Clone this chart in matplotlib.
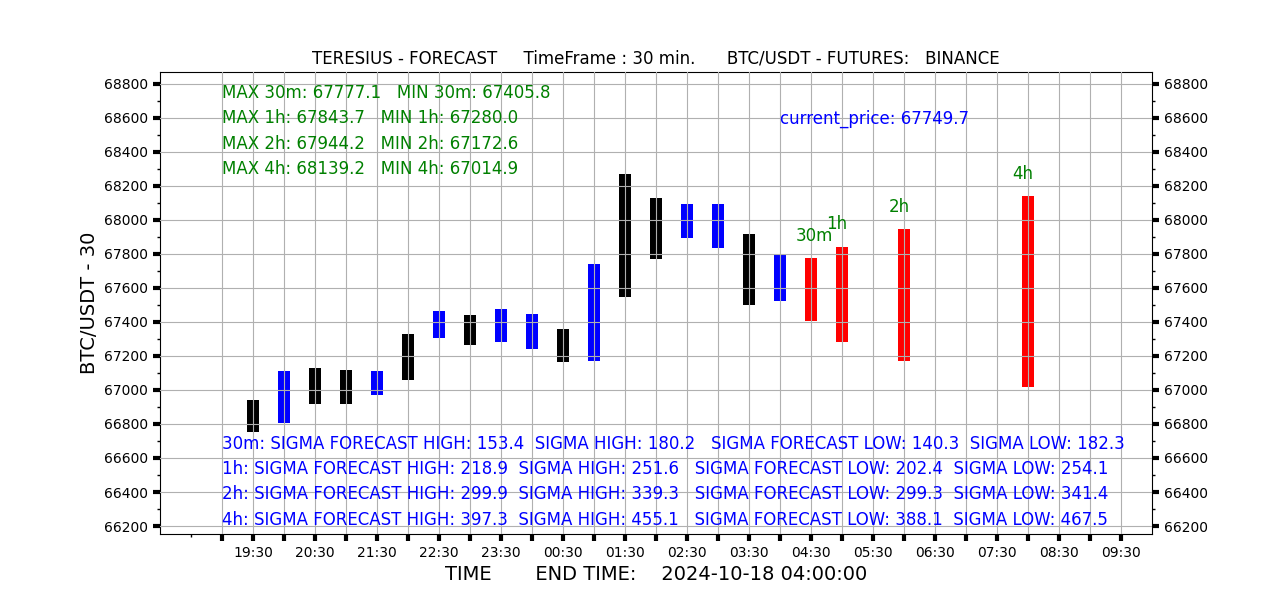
import matplotlib
matplotlib.use("Agg")
import matplotlib.pyplot as plt
from matplotlib.ticker import FixedLocator, MultipleLocator

# candles, one every 30 min from 19:30 (index 0) to 04:00 (index 17)
bar_idx = list(range(18))
bar_high = [66941, 67112, 67129, 67118, 67112, 67329, 67465, 67441, 67476,
            67447, 67359, 67741, 68270, 68129, 68094, 68094, 67918, 67794]
bar_low = [66755, 66808, 66919, 66919, 66972, 67061, 67308, 67266, 67284,
           67243, 67166, 67172, 67549, 67771, 67894, 67835, 67502, 67523]
bar_color = ["black", "blue", "black", "black", "blue", "black", "blue", "black", "blue",
             "blue", "black", "blue", "black", "black", "blue", "blue", "black", "blue"]

# forecasts
fc_names = ["30m", "1h", "2h", "4h"]
fc_idx = [18, 19, 21, 25]
fc_max = [67777.1, 67843.7, 67944.2, 68139.2]
fc_min = [67405.8, 67280.0, 67172.6, 67014.9]

sigma_fc_high = [153.4, 218.9, 299.9, 397.3]
sigma_high = [180.2, 251.6, 339.3, 455.1]
sigma_fc_low = [140.3, 202.4, 299.3, 388.1]
sigma_low = [182.3, 254.1, 341.4, 467.5]

current_price = 67749.7
end_time = "2024-10-18 04:00:00"

tick_idx = list(range(-1, 29))
tick_labels = ["19:30", "20:30", "21:30", "22:30", "23:30", "00:30", "01:30", "02:30",
               "03:30", "04:30", "05:30", "06:30", "07:30", "08:30", "09:30"]

fig, ax = plt.subplots(figsize=(12.8, 6), dpi=100)

bw = 0.38
ax.bar(bar_idx, [h - l for h, l in zip(bar_high, bar_low)], bottom=bar_low,
       width=bw, color=bar_color, zorder=1)
ax.bar(fc_idx, [h - l for h, l in zip(fc_max, fc_min)], bottom=fc_min,
       width=bw, color="red", zorder=1)

for name, i, hi in zip(fc_names, fc_idx, fc_max):
    ax.text(i - 0.5, hi + 78, name, color="green", fontsize=12, ha="left", va="bottom")

ax.set_xlim(-3, 29)
ax.set_ylim(66153, 68870)

labels = []
for t in tick_idx:
    labels.append(tick_labels[t // 2] if t % 2 == 0 else "")
ax.set_xticks(tick_idx)
ax.set_xticklabels(labels)
ax.xaxis.set_minor_locator(FixedLocator([-2]))
ax.yaxis.set_major_locator(MultipleLocator(200))
ax.yaxis.set_minor_locator(MultipleLocator(100))
ax.tick_params(axis="both", which="major", length=5, width=3, labelsize=10)
ax.tick_params(axis="both", which="minor", length=2.5, width=1)
ax.tick_params(axis="y", which="both", right=True, labelright=True)
ax.grid(True, which="major", zorder=0)
ax.set_axisbelow(False)
for gl in ax.get_xgridlines() + ax.get_ygridlines():
    gl.set_zorder(2)

x0 = -1
top_lines = []
for n, hi, lo in zip(fc_names, fc_max, fc_min):
    top_lines.append(f"MAX {n}: {hi:.1f}   MIN {n}: {lo:.1f}")
for k, s in enumerate(top_lines):
    ax.text(x0, 68745 - k * 148, s, color="green", fontsize=12, va="center")

ax.text(17, 68597, f"current_price: {current_price}", color="blue", fontsize=12, va="center")

for k, n in enumerate(fc_names):
    s = (f"{n}: SIGMA FORECAST HIGH: {sigma_fc_high[k]}  SIGMA HIGH: {sigma_high[k]}   "
         f"SIGMA FORECAST LOW: {sigma_fc_low[k]}  SIGMA LOW: {sigma_low[k]}")
    ax.text(x0, 66682 - k * 148, s, color="blue", fontsize=12, va="center")

ax.set_title("TERESIUS - FORECAST     TimeFrame : 30 min.      BTC/USDT - FUTURES:   BINANCE",
             fontsize=12)
ax.set_xlabel(f"TIME       END TIME:    {end_time}", fontsize=14)
ax.set_ylabel("BTC/USDT - 30", fontsize=14)

plt.savefig("out.png")
plt.close()
